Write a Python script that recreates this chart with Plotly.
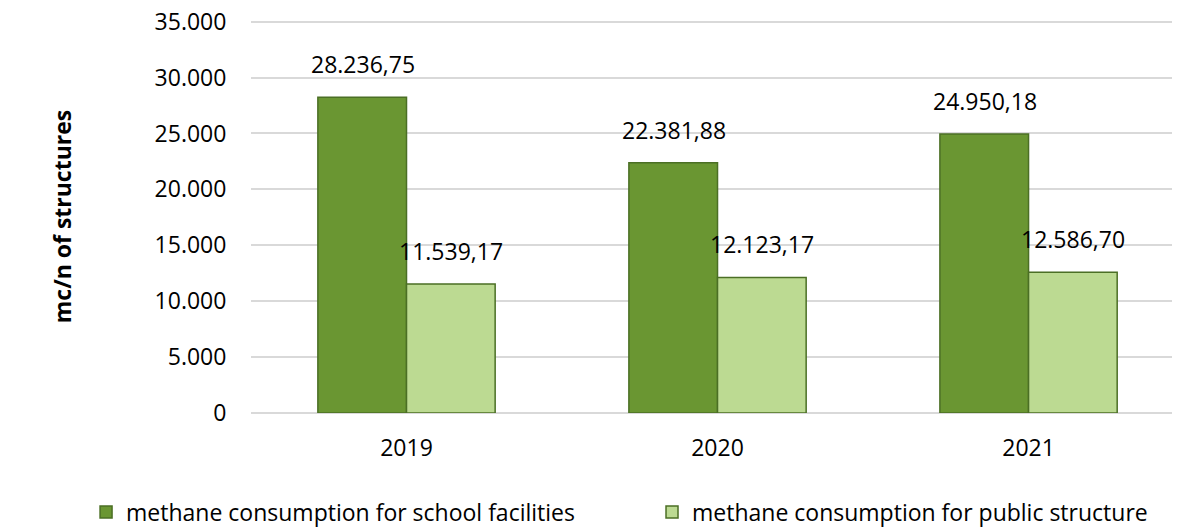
import plotly.graph_objects as go

anos = ['2019', '2020', '2021']
escolas = [28236.75, 22381.88, 24950.18]
publico = [11539.17, 12123.17, 12586.70]
nomes = ['methane consumption for school facilities', 'methane consumption for public structure']
yticks = [0, 5000, 10000, 15000, 20000, 25000, 30000, 35000]


def fmt_it(v, dec=2):
    # formato italiano: ponto nos milhares, virgula nos decimais
    s = f"{v:,.{dec}f}"
    return s.replace(',', 'X').replace('.', ',').replace('X', '.')


fonte = 'Open Sans'
fig = go.Figure()

fig.add_trace(go.Bar(
    x=anos, y=escolas, name=nomes[0],
    marker=dict(color='#6A9632', line=dict(color='#4B6F25', width=1.5)),
    legend='legend'
))

fig.add_trace(go.Bar(
    x=anos, y=publico, name=nomes[1],
    marker=dict(color='#BCDA92', line=dict(color='#4B6F25', width=1.5)),
    legend='legend2'
))

# rótulos acima das barras (x pelo índice da categoria)
for serie, desloc in [(escolas, -44), (publico, 44)]:
    for i, v in enumerate(serie):
        fig.add_annotation(
            x=i, y=v, text=fmt_it(v), showarrow=False,
            xshift=desloc, yshift=15, yanchor='bottom',
            font=dict(size=23, color='black', family=fonte)
        )

leg = dict(
    orientation='h', xref='container', yref='container',
    y=0.029, xanchor='left', yanchor='middle',
    font=dict(size=23, color='black'), itemwidth=30
)

# a página tem margem de 8px no body, por isso 1172x519
fig.update_layout(
    width=1172, height=519,
    barmode='group', bargap=0.43, bargroupgap=0,
    plot_bgcolor='white', paper_bgcolor='white',
    font=dict(family=fonte, size=23, color='black'),
    margin=dict(l=243, r=0, t=12, b=114, autoexpand=False),
    xaxis=dict(
        type='category', range=[-0.5, 2.487], automargin=False,
        ticks='outside', ticklen=14, tickcolor='rgba(0,0,0,0)',
        showline=False, showgrid=False,
        tickfont=dict(size=23, color='black')
    ),
    yaxis=dict(
        range=[0, 35150], automargin=False,
        tickvals=yticks, ticktext=[fmt_it(v, 0) for v in yticks],
        ticks='outside', ticklen=19, tickcolor='rgba(0,0,0,0)',
        ticklabeloverflow='allow',
        gridcolor='#D9D9D9', gridwidth=1.5,
        zeroline=True, zerolinecolor='#D9D9D9', zerolinewidth=1.5,
        title=dict(text='<b>mc/n of structures</b>', font=dict(size=23, color='black'), standoff=76),
        tickfont=dict(size=23, color='black')
    ),
    legend=dict(leg, x=0.0666),
    legend2=dict(leg, x=0.5495),
    showlegend=True
)

fig.write_html("out.html")
